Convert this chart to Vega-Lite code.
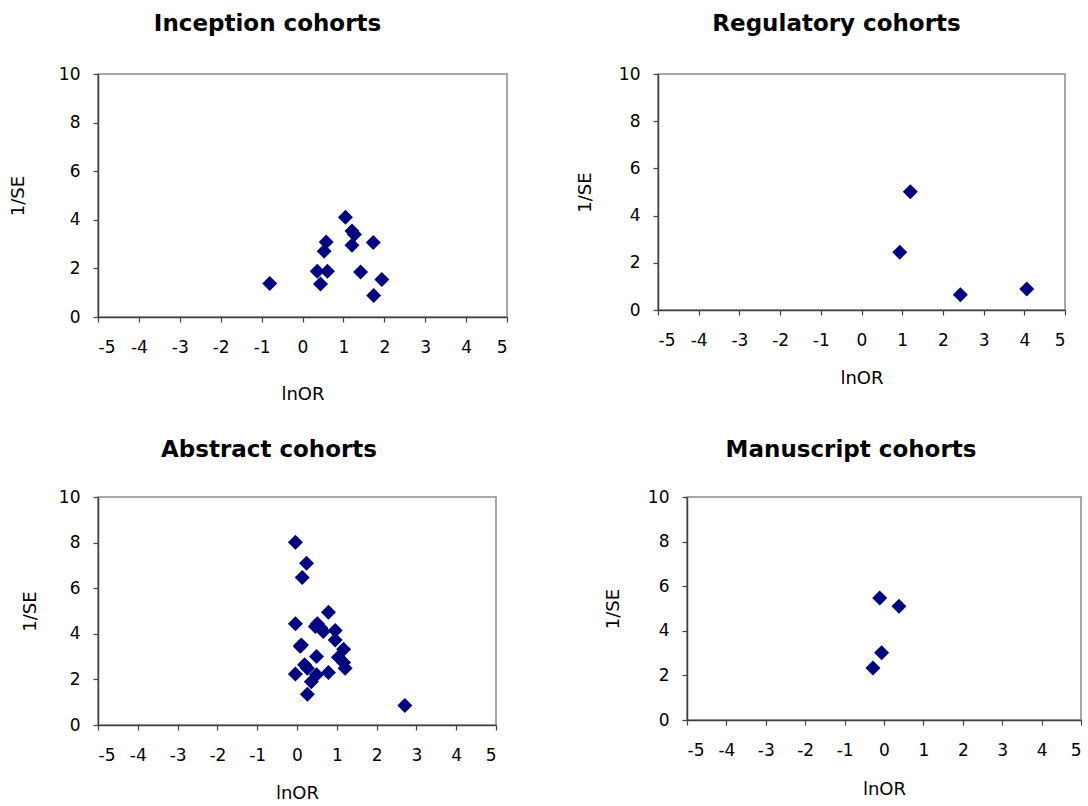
{
  "$schema": "https://vega.github.io/schema/vega-lite/v6.json",
  "background": "white",
  "padding": {"left": 8, "top": 12, "right": 0, "bottom": 0},
  "config": {
    "font": "DejaVu Sans",
    "view": {"stroke": "#8c8c8c", "strokeWidth": 1.5},
    "axis": {
      "grid": false,
      "domainColor": "#404040",
      "domainWidth": 1.5,
      "tickColor": "#404040",
      "tickWidth": 1.2,
      "tickSize": 5,
      "labelFont": "DejaVu Sans",
      "labelFontSize": 17,
      "labelColor": "#000000",
      "labelPadding": 13,
      "labelExpr": "'' + datum.value",
      "titleFont": "DejaVu Sans",
      "titleFontSize": 18,
      "titleFontWeight": "normal",
      "titleColor": "#000000"
    },
    "axisX": {"labelPadding": 17},
    "title": {"font": "DejaVu Sans", "fontSize": 23, "fontWeight": "bold", "color": "#000000", "anchor": "middle"}
  },
  "datasets": {
    "inception": [
      {"lnOR": -0.80, "invSE": 1.38},
      {"lnOR": 1.05, "invSE": 4.10},
      {"lnOR": 1.21, "invSE": 3.54},
      {"lnOR": 1.27, "invSE": 3.40},
      {"lnOR": 0.58, "invSE": 3.09},
      {"lnOR": 0.53, "invSE": 2.71},
      {"lnOR": 1.21, "invSE": 2.95},
      {"lnOR": 1.73, "invSE": 3.07},
      {"lnOR": 0.36, "invSE": 1.88},
      {"lnOR": 0.61, "invSE": 1.88},
      {"lnOR": 0.44, "invSE": 1.36},
      {"lnOR": 1.42, "invSE": 1.85},
      {"lnOR": 1.94, "invSE": 1.54},
      {"lnOR": 1.74, "invSE": 0.88}
    ],
    "regulatory": [
      {"lnOR": 1.20, "invSE": 5.01},
      {"lnOR": 0.94, "invSE": 2.45},
      {"lnOR": 2.43, "invSE": 0.65},
      {"lnOR": 4.06, "invSE": 0.89}
    ],
    "abstract": [
      {"lnOR": -0.04, "invSE": 8.02},
      {"lnOR": 0.24, "invSE": 7.09},
      {"lnOR": 0.13, "invSE": 6.47},
      {"lnOR": 0.79, "invSE": 4.95},
      {"lnOR": -0.04, "invSE": 4.44},
      {"lnOR": 0.51, "invSE": 4.44},
      {"lnOR": 0.46, "invSE": 4.32},
      {"lnOR": 0.60, "invSE": 4.25},
      {"lnOR": 0.66, "invSE": 4.10},
      {"lnOR": 0.96, "invSE": 4.14},
      {"lnOR": 0.96, "invSE": 3.73},
      {"lnOR": 0.11, "invSE": 3.51},
      {"lnOR": 0.08, "invSE": 3.45},
      {"lnOR": 1.17, "invSE": 3.32},
      {"lnOR": 0.49, "invSE": 3.00},
      {"lnOR": 1.04, "invSE": 2.97},
      {"lnOR": 1.17, "invSE": 2.74},
      {"lnOR": 1.21, "invSE": 2.49},
      {"lnOR": 0.19, "invSE": 2.64},
      {"lnOR": 0.26, "invSE": 2.49},
      {"lnOR": -0.04, "invSE": 2.24},
      {"lnOR": 0.79, "invSE": 2.30},
      {"lnOR": 0.49, "invSE": 2.20},
      {"lnOR": 0.36, "invSE": 1.90},
      {"lnOR": 0.26, "invSE": 1.35},
      {"lnOR": 2.71, "invSE": 0.85}
    ],
    "manuscript": [
      {"lnOR": -0.11, "invSE": 5.47},
      {"lnOR": 0.38, "invSE": 5.10},
      {"lnOR": -0.06, "invSE": 3.02},
      {"lnOR": -0.28, "invSE": 2.33}
    ]
  },
  "spacing": 34,
  "bounds": "full",
  "vconcat": [
    {
      "spacing": 66,
      "bounds": "full",
      "hconcat": [
        {
          "title": {"text": "Inception cohorts", "dx": -35, "offset": 29},
          "width": 409,
          "height": 243,
          "data": {"name": "inception"},
          "mark": {"type": "point", "shape": "diamond", "filled": true, "size": 225, "color": "#000080", "opacity": 1},
          "encoding": {
            "x": {"field": "lnOR", "type": "quantitative", "scale": {"domain": [-5, 5], "nice": false, "zero": false}, "axis": {"title": "lnOR", "values": [-5, -4, -3, -2, -1, 0, 1, 2, 3, 4, 5], "titlePadding": 30}},
            "y": {"field": "invSE", "type": "quantitative", "scale": {"domain": [0, 10], "nice": false}, "axis": {"title": "1/SE", "values": [0, 2, 4, 6, 8, 10], "titlePadding": 31}}
          }
        },
        {
          "title": {"text": "Regulatory cohorts", "dx": -25, "offset": 29},
          "width": 407,
          "height": 236,
          "data": {"name": "regulatory"},
          "mark": {"type": "point", "shape": "diamond", "filled": true, "size": 225, "color": "#000080", "opacity": 1},
          "encoding": {
            "x": {"field": "lnOR", "type": "quantitative", "scale": {"domain": [-5, 5], "nice": false, "zero": false}, "axis": {"title": "lnOR", "values": [-5, -4, -3, -2, -1, 0, 1, 2, 3, 4, 5], "titlePadding": 21}},
            "y": {"field": "invSE", "type": "quantitative", "scale": {"domain": [0, 10], "nice": false}, "axis": {"title": "1/SE", "values": [0, 2, 4, 6, 8, 10], "titlePadding": 24}}
          }
        }
      ]
    },
    {
      "spacing": 105,
      "bounds": "full",
      "hconcat": [
        {
          "title": {"text": "Abstract cohorts", "dx": -28, "offset": 26},
          "width": 398,
          "height": 228,
          "data": {"name": "abstract"},
          "mark": {"type": "point", "shape": "diamond", "filled": true, "size": 225, "color": "#000080", "opacity": 1},
          "encoding": {
            "x": {"field": "lnOR", "type": "quantitative", "scale": {"domain": [-5, 5], "nice": false, "zero": false}, "axis": {"title": "lnOR", "values": [-5, -4, -3, -2, -1, 0, 1, 2, 3, 4, 5], "titlePadding": 21}},
            "y": {"field": "invSE", "type": "quantitative", "scale": {"domain": [0, 10], "nice": false}, "axis": {"title": "1/SE", "values": [0, 2, 4, 6, 8, 10], "titlePadding": 19}}
          }
        },
        {
          "title": {"text": "Manuscript cohorts", "dx": -33, "offset": 26},
          "width": 394,
          "height": 223,
          "data": {"name": "manuscript"},
          "mark": {"type": "point", "shape": "diamond", "filled": true, "size": 225, "color": "#000080", "opacity": 1},
          "encoding": {
            "x": {"field": "lnOR", "type": "quantitative", "scale": {"domain": [-5, 5], "nice": false, "zero": false}, "axis": {"title": "lnOR", "values": [-5, -4, -3, -2, -1, 0, 1, 2, 3, 4, 5], "titlePadding": 22}},
            "y": {"field": "invSE", "type": "quantitative", "scale": {"domain": [0, 10], "nice": false}, "axis": {"title": "1/SE", "values": [0, 2, 4, 6, 8, 10], "titlePadding": 25}}
          }
        }
      ]
    }
  ]
}
